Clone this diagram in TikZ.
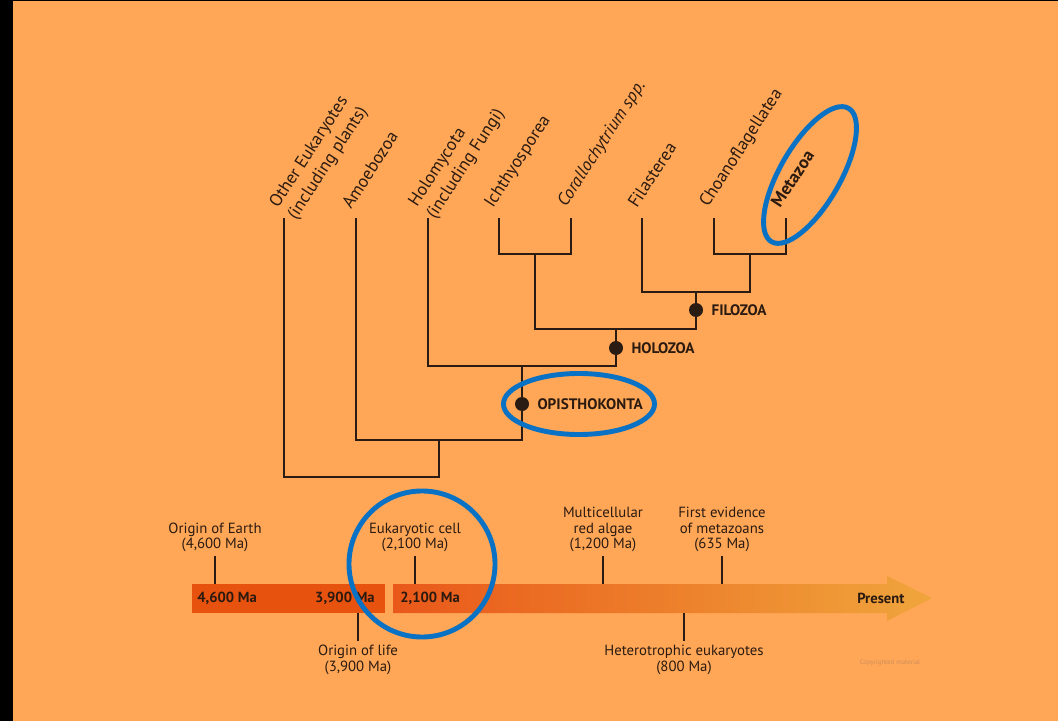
\documentclass[tikz,border=0pt]{standalone}
\usepackage{fontspec}
\setmainfont{PT Sans}
\usetikzlibrary{positioning}

\definecolor{bgorange}{HTML}{FFA757}
\definecolor{treeline}{HTML}{2A1C12}
\definecolor{ringblue}{HTML}{0A72C4}
\definecolor{barred}{HTML}{E8520F}
\definecolor{barleft}{HTML}{E9581A}
\definecolor{barright}{HTML}{F0A53C}
\definecolor{inktext}{HTML}{2B1A10}
\definecolor{faintgray}{HTML}{CF8E5C}

\tikzset{
  branch/.style={draw=treeline, line width=1.4pt},
  dot/.style={circle, fill=treeline, inner sep=0pt, minimum size=0.35cm},
  leaf/.style={rotate=57, anchor=base west, inner sep=0pt, text=inktext,
    font=\fontsize{12.5}{14}\selectfont},
  clade/.style={inner sep=0pt, text=inktext, font=\bfseries\fontsize{10.8}{12}\selectfont},
  ring/.style={draw=ringblue, line width=3.5pt},
  event/.style={align=center, inner sep=0pt, text=inktext,
    font=\fontsize{10.5}{11}\selectfont},
  tick/.style={draw=treeline, line width=1pt, shorten <=0.1cm},
  barlabel/.style={inner sep=0pt, text=inktext, font=\bfseries\fontsize{10.4}{12}\selectfont}
}

\begin{document}
\begin{tikzpicture}[x=0.025cm,y=-0.025cm]
  \useasboundingbox (0,0) rectangle (1058,721);
  \fill[black] (0,0) rectangle (1058,721);
  \fill[bgorange] (13,1) rectangle (1058,721);

  % leaf tips and branch points
  \coordinate (oth) at (284,218);
  \coordinate (amo) at (356,218);
  \coordinate (hom) at (428,218);
  \coordinate (ich) at (499,218);
  \coordinate (cor) at (571,218);
  \coordinate (fil) at (642,218);
  \coordinate (cho) at (714,218);
  \coordinate (met) at (786,218);
  \coordinate (ic) at (535,254);
  \coordinate (cm) at (750,254);
  \coordinate (fz) at (696,292);
  \coordinate (hz) at (616,329);
  \coordinate (op) at (522,366);
  \coordinate (am) at (439,440);
  \coordinate (rt) at (439,477);

  % tree
  \draw[branch] (ich) |- (ic) -| (cor);
  \draw[branch] (cho) |- (cm) -| (met);
  \draw[branch] (fil) |- (fz) -| (cm);
  \draw[branch] (ic) |- (hz) -| (fz);
  \draw[branch] (hom) |- (op) -| (hz);
  \draw[branch] (amo) |- (am) -| (op);
  \draw[branch] (oth) |- (rt) -- (am);

  \node[dot] (filozoa) at (696,310) {};
  \node[dot] (holozoa) at (616,348) {};
  \node[dot] (opistho) at (522,404) {};
  \node[clade, right=0.2cm of filozoa] (filozoaLbl) {FILOZOA};
  \node[clade, right=0.2cm of holozoa] (holozoaLbl) {HOLOZOA};
  \node[clade, right=0.2cm of opistho] (opisthoLbl) {OPISTHOKONTA};

  % leaf labels
  \node[leaf] (othA) at (278,209) {Other Eukaryotes};
  \node[leaf] (othB) at (296,221) {(including plants)};
  \node[leaf] (amoLbl) at (351,210) {Amoebozoa};
  \node[leaf] (homA) at (417,208) {Holomycota};
  \node[leaf] (homB) at (435,220) {(including Fungi)};
  \node[leaf] (ichLbl) at (493,209) {Ichthyosporea};
  \node[leaf] (corLbl) at (566,208) {\itshape Corallochytrium spp.};
  \node[leaf] (filLbl) at (637,209) {Filasterea};
  \node[leaf] (choLbl) at (708,208) {Choanoflagellatea};
  \node[leaf, font=\bfseries\fontsize{12.5}{14}\selectfont] (metLbl) at (780,209) {Metazoa};

  % timeline
  \coordinate (bartop) at (0,584);
  \coordinate (barbot) at (0,613);
  \fill[barred] (192,584) rectangle (385,613);
  \shade[left color=barleft, right color=barright]
    (393,584) -- (887,584) -- (887,576) -- (932,598) -- (887,621) -- (887,613) -- (393,613) -- cycle;

  \node[barlabel, anchor=west] (ma4600) at (197,598) {4,600 Ma};
  \node[barlabel, anchor=east] (ma3900) at (375,598) {3,900 Ma};
  \node[barlabel, anchor=west] (ma2100) at (400,598) {2,100 Ma};
  \node[barlabel, anchor=west] (present) at (857,598) {Present};

  % events
  \node[event, anchor=south] (earth) at (215,552) {Origin of Earth\\(4,600 Ma)};
  \node[event, anchor=south] (eukcell) at (415,552) {Eukaryotic cell\\(2,100 Ma)};
  \node[event, anchor=south] (redalgae) at (603,552) {Multicellular\\red algae\\(1,200 Ma)};
  \node[event, anchor=south] (metazoans) at (722,552) {First evidence\\of metazoans\\(635 Ma)};
  \node[event, anchor=north] (life) at (358,645) {Origin of life\\(3,900 Ma)};
  \node[event, anchor=north] (hetero) at (684,645) {Heterotrophic eukaryotes\\(800 Ma)};

  \draw[tick] (earth.south) -- (earth.south |- bartop);
  \draw[tick] (eukcell.south) -- (eukcell.south |- bartop);
  \draw[tick] (redalgae.south) -- (redalgae.south |- bartop);
  \draw[tick] (metazoans.south) -- (metazoans.south |- bartop);
  \draw[tick] (life.north) -- (life.north |- barbot);
  \draw[tick] (hetero.north) -- (hetero.north |- barbot);

  % highlights
  \draw[ring] (579,404) ellipse [x radius=1.8875cm, y radius=0.7625cm];
  \draw[ring, rotate around={60:(810,175)}] (810,175) ellipse [x radius=1.925cm, y radius=0.75cm];
  \draw[ring] (422,564) circle [radius=1.825cm];

  \node[inner sep=0pt, text=faintgray, font=\fontsize{4.8}{5}\selectfont]
    (copyr) at (890,663) {Copyrighted material};
\end{tikzpicture}
\end{document}
